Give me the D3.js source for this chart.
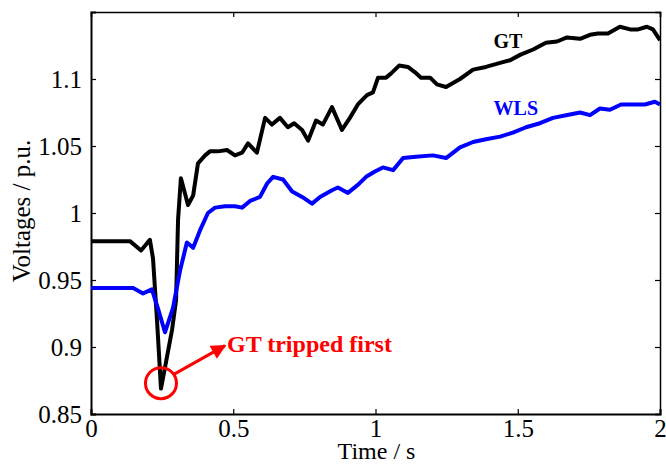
<!DOCTYPE html>
<html>
<head>
<meta charset="utf-8">
<script src="https://cdn.jsdelivr.net/npm/d3@7"></script>
<style>
  body { margin: 0; background: #fff; }
  text { font-family: "Liberation Serif", "Times New Roman", serif; }
</style>
</head>
<body>
<div id="graph"></div>
<script>
// series (time in s, voltage in p.u.)
var gtTime = [0, 0.137, 0.176, 0.207, 0.218, 0.232, 0.246, 0.264, 0.285, 0.299, 0.306, 0.316, 0.341, 0.359, 0.376,
  0.401, 0.418, 0.446, 0.478, 0.506, 0.531, 0.552, 0.583, 0.612, 0.636, 0.664, 0.692, 0.714, 0.742, 0.763,
  0.791, 0.815, 0.847, 0.882, 0.910, 0.938, 0.970, 0.991, 1.009, 1.037, 1.054, 1.083, 1.114, 1.139, 1.160,
  1.192, 1.216, 1.248, 1.297, 1.343, 1.388, 1.438, 1.473, 1.508, 1.554, 1.599, 1.638, 1.673, 1.719, 1.754,
  1.782, 1.817, 1.859, 1.895, 1.923, 1.954, 1.975, 2.0];
var gtVolt = [0.979, 0.979, 0.972, 0.980, 0.966, 0.920, 0.869, 0.889, 0.913, 0.935, 0.995, 1.026, 1.006, 1.013, 1.037,
  1.043, 1.046, 1.046, 1.047, 1.043, 1.045, 1.052, 1.045, 1.071, 1.066, 1.071, 1.064, 1.067, 1.062, 1.054,
  1.069, 1.066, 1.079, 1.062, 1.071, 1.081, 1.088, 1.090, 1.101, 1.101, 1.104, 1.110, 1.109, 1.105, 1.101,
  1.101, 1.096, 1.094, 1.100, 1.107, 1.109, 1.112, 1.114, 1.118, 1.122, 1.127, 1.128, 1.131, 1.130, 1.133,
  1.134, 1.134, 1.139, 1.137, 1.137, 1.139, 1.137, 1.129];

var wlsTime = [0, 0.148, 0.183, 0.214, 0.235, 0.260, 0.288, 0.313, 0.337, 0.359, 0.383, 0.411, 0.436, 0.471,
  0.506, 0.531, 0.559, 0.594, 0.619, 0.640, 0.675, 0.707, 0.742, 0.777, 0.805, 0.847, 0.868, 0.903, 0.938,
  0.967, 0.998, 1.026, 1.062, 1.097, 1.142, 1.202, 1.248, 1.297, 1.343, 1.388, 1.438, 1.483, 1.529, 1.578,
  1.624, 1.670, 1.719, 1.754, 1.789, 1.824, 1.863, 1.905, 1.947, 1.982, 2.0];
var wlsVolt = [0.944, 0.944, 0.940, 0.943, 0.929, 0.911, 0.929, 0.957, 0.978, 0.974, 0.987, 1.000, 1.004, 1.005,
  1.005, 1.004, 1.009, 1.012, 1.022, 1.027, 1.025, 1.016, 1.012, 1.007, 1.012, 1.017, 1.019, 1.015, 1.021,
  1.027, 1.031, 1.034, 1.032, 1.041, 1.042, 1.043, 1.041, 1.049, 1.053, 1.055, 1.057, 1.060, 1.064, 1.067,
  1.071, 1.073, 1.075, 1.073, 1.078, 1.077, 1.081, 1.081, 1.081, 1.083, 1.081];

var xTicks = [0, 0.5, 1, 1.5, 2];
var xTickLabels = ["0", "0.5", "1", "1.5", "2"];
var yTicks = [0.85, 0.9, 0.95, 1, 1.05, 1.1];
var yTickLabels = ["0.85", "0.9", "0.95", "1", "1.05", "1.1"];

var tripPoint = [0.246, 0.873];   // where the red circle sits

var palette = {
  "black": "#000000",
  "blue": "#0000ff",
  "red": "#ff0000"
};

var width = 666, height = 465;
var margin = { top: 12, right: 6, bottom: 51, left: 91 };
var plotW = width - margin.left - margin.right;
var plotH = height - margin.top - margin.bottom;

var x = d3.scaleLinear().domain([0, 2]).range([0, plotW]);
var y = d3.scaleLinear().domain([0.85, 1.15]).range([plotH, 0]);

var svg = d3.select("#graph").append("svg")
    .attr("width", width)
    .attr("height", height);
var g = svg.append("g")
    .attr("transform", "translate(" + margin.left + "," + margin.top + ")");

g.append("clipPath").attr("id", "clip")
  .append("rect")
    .attr("width", plotW)
    .attr("height", plotH);

// axes, matlab style: ticks inside, on all four sides
var tickLen = 5;
var fontSize = "25px";

var bottomAxis = d3.axisBottom(x).tickValues(xTicks).tickSize(-tickLen).tickPadding(5)
    .tickFormat(function(d, i) { return xTickLabels[i]; });
var topAxis = d3.axisTop(x).tickValues(xTicks).tickSize(-tickLen).tickFormat("");
var leftAxis = d3.axisLeft(y).tickValues(yTicks).tickSize(-tickLen).tickPadding(tickLen + 4)
    .tickFormat(function(d, i) { return yTickLabels[i]; });
var rightAxis = d3.axisRight(y).tickValues(yTicks).tickSize(-tickLen).tickFormat("");

function styleAxis(sel, w) {
  sel.select(".domain").attr("stroke", "#000").attr("stroke-width", w);
  sel.selectAll(".tick line").attr("stroke", "#000").attr("stroke-width", 1.2);
  sel.selectAll(".tick text")
    .attr("fill", "#000")
    .style("font-size", fontSize)
    .style("font-family", '"Liberation Serif", "Times New Roman", serif');
}

g.append("g").attr("transform", "translate(0," + plotH + ")").call(bottomAxis).call(styleAxis, 2);
g.append("g").call(topAxis).call(styleAxis, 1.5);
g.append("g").call(leftAxis).call(styleAxis, 2);
g.append("g").attr("transform", "translate(" + plotW + ",0)").call(rightAxis).call(styleAxis, 1.5);

g.selectAll(".domain").attr("fill", "none");

// axis labels
g.append("text")
  .attr("x", plotW / 2 + 1)
  .attr("y", plotH + 45)
  .attr("text-anchor", "middle")
  .attr("font-size", "24px")
  .attr("fill", "#000")
  .text("Time / s");

g.append("text")
  .attr("transform", "translate(" + (-margin.left + 30) + "," + (plotH / 2 - 2) + ") rotate(-90)")
  .attr("text-anchor", "middle")
  .attr("font-size", "25px")
  .attr("fill", "#000")
  .text("Voltages / p.u.");

// curves
var line = d3.line()
    .x(function(d) { return x(d[0]); })
    .y(function(d) { return y(d[1]); });

var series = [
  { name: "GT", color: palette.black, pts: d3.zip(gtTime, gtVolt) },
  { name: "WLS", color: palette.blue, pts: d3.zip(wlsTime, wlsVolt) }
];

g.append("g").attr("clip-path", "url(#clip)")
  .selectAll(".curve").data(series).enter()
  .append("path")
    .attr("class", "curve")
    .attr("d", function(d) { return line(d.pts); })
    .attr("fill", "none")
    .attr("stroke", function(d) { return d.color; })
    .attr("stroke-width", 4)
    .attr("stroke-linejoin", "round");

// series labels
g.append("text")
  .attr("x", x(1.415))
  .attr("y", y(1.123))
  .attr("font-size", "20px")
  .attr("font-weight", "bold")
  .attr("fill", palette.black)
  .text("GT");

g.append("text")
  .attr("x", x(1.415))
  .attr("y", y(1.073))
  .attr("font-size", "20px")
  .attr("font-weight", "bold")
  .attr("fill", palette.blue)
  .text("WLS");

// annotation: circle, arrow and text
var cx = x(tripPoint[0]), cy = y(tripPoint[1]);
g.append("circle")
  .attr("cx", cx)
  .attr("cy", cy)
  .attr("r", 15.5)
  .attr("fill", "none")
  .attr("stroke", palette.red)
  .attr("stroke-width", 3);

svg.append("defs").append("marker")
    .attr("id", "arrow")
    .attr("viewBox", "0 0 10 10")
    .attr("refX", 9)
    .attr("refY", 5)
    .attr("markerUnits", "userSpaceOnUse")
    .attr("markerWidth", 18)
    .attr("markerHeight", 15)
    .attr("orient", "auto")
  .append("path")
    .attr("d", "M0,0 L10,5 L0,10 Z")
    .attr("fill", palette.red);

g.append("line")
  .attr("x1", cx + 15.5 * Math.cos(-0.6))
  .attr("y1", cy + 15.5 * Math.sin(-0.6))
  .attr("x2", x(0.471))
  .attr("y2", y(0.901))
  .attr("stroke", palette.red)
  .attr("stroke-width", 3)
  .attr("marker-end", "url(#arrow)");

g.append("text")
  .attr("x", x(0.478))
  .attr("y", y(0.896))
  .attr("font-size", "24px")
  .attr("font-weight", "bold")
  .attr("fill", palette.red)
  .text("GT tripped first");
</script>
</body>
</html>
